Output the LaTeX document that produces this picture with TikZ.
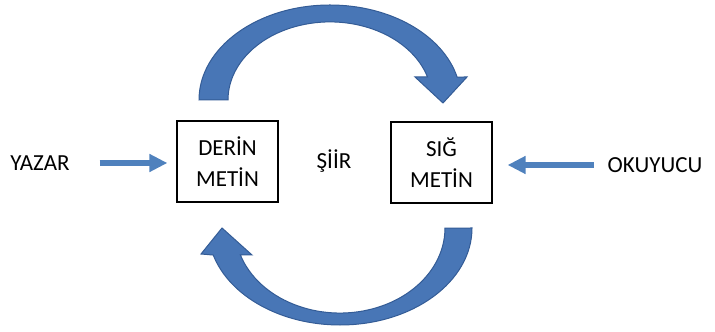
\documentclass[tikz,border=0pt]{standalone}
\usepackage{fontspec}
\setmainfont{Carlito}
\usetikzlibrary{arrows.meta}
\usetikzlibrary{positioning}

\definecolor{arrowblue}{RGB}{79,129,189}
\definecolor{bandblue}{RGB}{72,118,182}
\definecolor{bandedge}{RGB}{52,92,150}

\begin{document}
\begin{tikzpicture}[x=0.5pt,y=0.5pt,>={Triangle[length=9pt,width=8.5pt]},
                    font=\fontsize{11.5}{15.5}\selectfont,
                    metin node/.style={draw,line width=0.6pt,minimum width=50.5pt,
                                       minimum height=40.5pt,align=center},
                    side arrow/.style={->,draw=arrowblue,line width=2.8pt},
                    band/.style={fill=bandblue,draw=bandedge,line width=0.5pt}]
  \useasboundingbox (0,0) rectangle (715,331);

  \node[metin node] (derin) at (227.5,169.5) {DER\.{I}N\\MET\.{I}N};
  \node[metin node] (sig) at (441.5,168.5) {SI\u{G}\\MET\.{I}N};
  \node (siir) at (334,170) {\c{S}\.{I}\.{I}R};
  \node (yazar) at (40,168) {YAZAR};
  \node (okuyucu) at (655,166) {OKUYUCU};

  \draw[side arrow,shorten <=11.5pt,shorten >=4.5pt]
    (yazar.east) -- (derin.west |- yazar.east);
  \draw[side arrow,shorten <=3.5pt,shorten >=7.5pt]
    (okuyucu.west) -- (sig.east |- okuyucu.west);

  % upper bend, derin -> sig
  \filldraw[band] (199,231) arc[start angle=180,end angle=14,x radius=131,y radius=95]
    -- (467,254) -- (443,228) -- (415,254) -- (427.5,254)
    arc[start angle=17.1,end angle=180,x radius=102,y radius=78] -- cycle;
  % lower bend, sig -> derin
  \filldraw[band] (472,103) arc[start angle=0,end angle=-163.8,x radius=132,y radius=97]
    -- (201,77) -- (222,103) -- (252,76) -- (240.4,76)
    arc[start angle=-161.5,end angle=0,x radius=105,y radius=85] -- cycle;
\end{tikzpicture}
\end{document}
